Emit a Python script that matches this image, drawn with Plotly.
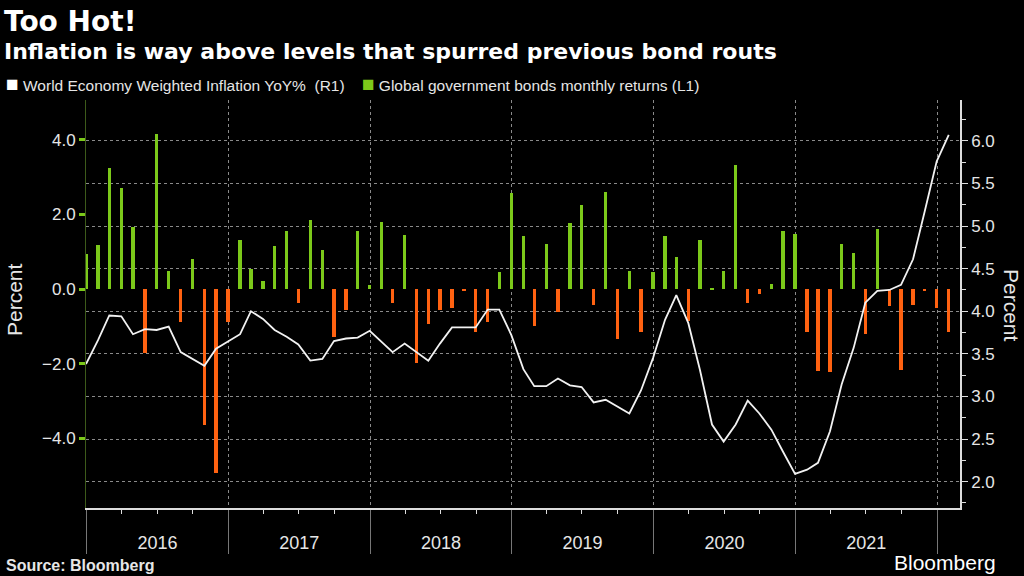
import pandas as pd
import plotly.graph_objects as go

# monthly, month-end dates Dec 2015 .. Jan 2022
dates = pd.date_range("2015-12-31", periods=74, freq="ME")

bond_returns = [0.95, 1.18, 3.26, 2.70, 1.67, -1.72, 4.16, 0.48, -0.89, 0.80,
                -3.65, -4.94, -0.89, 1.31, 0.54, 0.22, 1.16, 1.57, -0.37, 1.85,
                1.06, -1.28, -0.56, 1.55, 0.10, 1.80, -0.37, 1.46, -1.99, -0.94,
                -0.57, -0.50, -0.04, -1.16, -0.88, 0.45, 2.58, 1.42, -0.98, 1.21,
                -0.62, 1.76, 2.26, -0.44, 2.61, -1.33, 0.48, -1.14, 0.46, 1.42,
                0.87, -0.86, 1.31, 0.02, 0.49, 3.34, -0.37, -0.13, 0.13, 1.56,
                1.47, -1.14, -2.19, -2.22, 1.22, 0.96, -1.21, 1.62, -0.46, -2.17,
                -0.44, -0.03, -0.50, -1.14]

inflation = [3.38, 3.66, 3.95, 3.94, 3.73, 3.79, 3.78, 3.82, 3.52, 3.44,
             3.36, 3.56, 3.64, 3.73, 4.00, 3.91, 3.78, 3.70, 3.61, 3.42,
             3.44, 3.65, 3.68, 3.69, 3.77, 3.64, 3.52, 3.62, 3.52, 3.42,
             3.62, 3.81, 3.81, 3.81, 4.02, 4.02, 3.72, 3.32, 3.12, 3.12,
             3.21, 3.13, 3.11, 2.93, 2.96, 2.88, 2.80, 3.07, 3.45, 3.90,
             4.19, 3.86, 3.31, 2.67, 2.47, 2.67, 2.95, 2.80, 2.61, 2.35,
             2.09, 2.14, 2.22, 2.59, 3.14, 3.57, 4.10, 4.24, 4.25, 4.31,
             4.61, 5.17, 5.76, 6.07]

left_ticks = [-4, -2, 0, 2, 4]

GREEN = "#7cc91a"
ORANGE = "#ff6211"
GRID = "#8a8a8a"
TXT = "#e6e6e6"
SANS = "Liberation Sans, Arial, sans-serif"
HEAD = "DejaVu Sans, Verdana, sans-serif"

# plot box in pixels: x 86..960, y 100..508
L, R, T, B = 86, 64, 100, 68
PW, PH = 1024 - L - R, 576 - T - B
def px(x): return (x - L) / PW
def py(y): return (576 - B - y) / PH

fig = go.Figure()
fig.add_trace(go.Bar(x=dates, y=bond_returns, yaxis="y",
                     marker_color=[GREEN if v >= 0 else ORANGE for v in bond_returns],
                     marker_line_width=0, width=8.5 * 86400000, showlegend=False))
fig.add_trace(go.Scatter(x=dates, y=inflation, yaxis="y2", mode="lines",
                         line=dict(color="#f2f2f2", width=1.8), showlegend=False))

fig.update_layout(
    width=1024, height=576, paper_bgcolor="black", plot_bgcolor="black",
    margin=dict(l=L, r=R, t=T, b=B), bargap=0,
    xaxis=dict(range=["2015-12-31", "2022-03-01"], type="date",
               dtick="M12", tick0="2016-01-01", ticklabelmode="period",
               tickformat="%Y", ticks="outside", ticklen=44, tickcolor="#777",
               ticklabelstandoff=-26,
               tickfont=dict(family=SANS, size=18, color=TXT),
               showgrid=True, gridcolor=GRID, griddash="dot", gridwidth=1,
               showline=True, linecolor="#dddddd", linewidth=1.5, zeroline=False,
               minor=dict(dtick="M3", ticks="outside", ticklen=4, tickcolor="#dddddd", showgrid=False)),
    yaxis=dict(range=[-5.87, 5.07], tickvals=left_ticks, tickformat=".1f",
               ticks="outside", ticklen=6, tickwidth=3, tickcolor=GREEN,
               tickfont=dict(family=SANS, size=17, color=TXT),
               showgrid=False, zeroline=False, showline=True, linecolor="#3d5a1a", linewidth=1),
    yaxis2=dict(range=[1.69, 6.48], overlaying="y", side="right", dtick=0.5, tickformat=".1f",
                ticks="outside", ticklen=6, tickcolor="#dddddd",
                tickfont=dict(family=SANS, size=17, color=TXT),
                showgrid=True, gridcolor=GRID, griddash="dot", gridwidth=1,
                zeroline=False, showline=True, linecolor="#dddddd", linewidth=1.5,
                minor=dict(dtick=0.25, ticks="outside", ticklen=4, tickcolor="#dddddd")),
)

sq = "<span style='color:{};font-size:21px'>■</span>"
legend_text = (sq.format("white") + " World Economy Weighted Inflation YoY%  (R1)    "
               + sq.format(GREEN) + " Global government bonds monthly returns (L1)")

ann = [
    dict(text="<b>Too Hot!</b>", x=px(2), y=py(3), font=dict(family=HEAD, size=28, color="white")),
    dict(text="<b>Inflation is way above levels that spurred previous bond routs</b>", x=px(2), y=py(37),
         font=dict(family=HEAD, size=22, color="white")),
    dict(text=legend_text, x=px(4), y=py(70), font=dict(family=SANS, size=15.5, color=TXT)),
    dict(text="<b>Source: Bloomberg</b>", x=px(4), y=py(555), font=dict(family=SANS, size=16, color=TXT)),
]
for a in ann:
    fig.add_annotation(xref="paper", yref="paper", xanchor="left", yanchor="top", showarrow=False, **a)

fig.add_annotation(text="Bloomberg", xref="paper", yref="paper", x=px(998), y=py(562),
                   xanchor="right", yanchor="middle", showarrow=False,
                   font=dict(family=SANS, size=21, color="white"))
fig.add_annotation(text="Percent", xref="paper", yref="paper", x=px(14), y=py(300), textangle=-90,
                   xanchor="center", yanchor="middle",
                   showarrow=False, font=dict(family=SANS, size=21, color=TXT))
fig.add_annotation(text="Percent", xref="paper", yref="paper", x=px(1012), y=py(305), textangle=90,
                   xanchor="center", yanchor="middle",
                   showarrow=False, font=dict(family=SANS, size=21, color=TXT))

fig.write_html("out.html", config={"displayModeBar": False},
               post_script="document.body.style.margin='0';document.body.style.overflow='hidden';")
